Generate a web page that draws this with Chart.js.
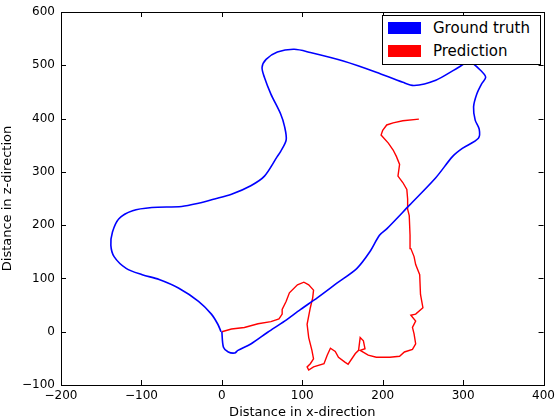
<!DOCTYPE html>
<html>
<head>
<meta charset="utf-8">
<script src="https://cdn.jsdelivr.net/npm/chart.js@4"></script>
<style>
html,body{margin:0;padding:0;background:#fff;}
#wrap{position:relative;width:560px;height:420px;overflow:hidden;}
#c{position:absolute;left:0;top:0;}
#legend{position:absolute;left:382px;top:15px;width:157px;height:48px;border:1px solid #000;background:#fff;font-family:'DejaVu Sans';font-size:15px;color:#000;}
.sw{position:absolute;left:5px;width:33px;height:12px;}
.lb{position:absolute;left:50px;line-height:18px;white-space:nowrap;}
</style>
</head>
<body>
<div id="wrap">
<canvas id="c" width="560" height="420"></canvas>
<div id="legend"></div>
</div>
<script>
// ---- data ----
const xTicks = [-200, -100, 0, 100, 200, 300, 400];
const zTicks = [-100, 0, 100, 200, 300, 400, 500, 600];
const seriesNames = ['Ground truth', 'Prediction'];
const seriesColors = ['#0000ff', '#ff0000'];
const xTitle = 'Distance in x-direction';
const zTitle = 'Distance in z-direction';

const gtX = [0,2,8,16,20,36,57,78,98,119,143,168,184,196,205,233,266,287,299,319,320,315,313,317,323,328,324,308,291,266,239,225,192,151,110,90,69,55,50,53,61,73,78,80,73,69,53,36,12,-9,-29,-50,-87,-111,-128,-136,-138,-134,-119,-99,-78,-54,-29,-13,-5,-1];
const gtZ = [0,-29,-38,-40,-35,-23,-1,20,42,64,91,119,150,181,193,237,289,329,344,363,380,397,422,446,465,477,487,506,493,472,462,468,487,508,524,530,525,511,496,477,446,409,385,360,338,329,292,274,258,249,241,235,233,227,212,187,162,141,119,107,98,82,57,33,14,0];

const predX = [0,12,28,45,61,71,75,75,80,84,94,102,108,114,113,110,106,108,112,114,110,106,108,114,127,131,135,141,145,153,157,166,170,172,176,178,172,182,192,209,221,227,237,241,239,237,241,235,241,250,247,246,241,239,235,234,233,231,231,230,225,219,221,217,213,207,198,200,205,213,225,245];
const predZ = [0,5,8,15,19,24,33,42,57,73,88,93,88,78,64,45,14,-11,-35,-51,-60,-66,-72,-66,-60,-44,-31,-37,-48,-57,-61,-41,-35,-11,-17,-32,-35,-44,-48,-48,-46,-38,-33,-23,-4,8,20,31,33,45,70,107,126,141,156,181,218,230,249,267,280,292,314,329,341,354,369,378,388,392,396,399];

function pts(xs, zs) { return xs.map((x, i) => ({ x: x, y: zs[i] })); }
const minus = v => String(v).replace('-', '\u2212');

// ---- legend (HTML overlay, drawn above the plot like matplotlib) ----
const lg = document.getElementById('legend');
seriesNames.forEach((n, i) => {
  const sw = document.createElement('div');
  sw.className = 'sw';
  sw.style.top = (6 + i * 23.4) + 'px';
  sw.style.background = seriesColors[i];
  lg.appendChild(sw);
  const lb = document.createElement('div');
  lb.className = 'lb';
  lb.style.top = (2.5 + i * 23) + 'px';
  lb.textContent = n;
  lg.appendChild(lb);
});

// ---- inward ticks + frame ----
const mplAxes = {
  id: 'mplAxes',
  afterDraw(chart) {
    const { ctx, chartArea: a, scales } = chart;
    const x = scales.x, y = scales.y;
    const L = 5;
    ctx.save();
    ctx.strokeStyle = '#000';
    ctx.lineWidth = 1;
    ctx.beginPath();
    xTicks.forEach(v => {
      const p = Math.round(x.getPixelForValue(v)) + 0.5;
      ctx.moveTo(p, a.bottom); ctx.lineTo(p, a.bottom - L);
      ctx.moveTo(p, a.top); ctx.lineTo(p, a.top + L);
    });
    zTicks.forEach(v => {
      const p = Math.round(y.getPixelForValue(v)) + 0.5;
      ctx.moveTo(a.left, p); ctx.lineTo(a.left + L, p);
      ctx.moveTo(a.right, p); ctx.lineTo(a.right - L, p);
    });
    ctx.stroke();
    ctx.strokeRect(Math.round(a.left) + 0.5, Math.round(a.top) + 0.5,
                   Math.round(a.right - a.left), Math.round(a.bottom - a.top));
    ctx.restore();
  }
};

Chart.defaults.font.family = "'DejaVu Sans', sans-serif";
Chart.defaults.color = '#000';

new Chart(document.getElementById('c'), {
  type: 'scatter',
  data: {
    datasets: [
      { label: seriesNames[0], data: pts(gtX, gtZ), showLine: true, borderColor: seriesColors[0],
        backgroundColor: seriesColors[0], borderWidth: 1.6, pointRadius: 0, tension: 0.3 },
      { label: seriesNames[1], data: pts(predX, predZ), showLine: true, borderColor: seriesColors[1],
        backgroundColor: seriesColors[1], borderWidth: 1.4, pointRadius: 0, tension: 0 }
    ]
  },
  options: {
    responsive: false,
    animation: false,
    devicePixelRatio: 1,
    layout: { padding: { top: 7, right: 11, left: 0, bottom: 0 } },
    plugins: { legend: { display: false }, tooltip: { enabled: false } },
    scales: {
      x: {
        type: 'linear', min: -200, max: 400,
        afterBuildTicks: s => { s.ticks = xTicks.map(v => ({ value: v })); },
        afterFit: s => { s.height = 35; },
        grid: { display: false, drawTicks: false },
        border: { display: false },
        ticks: { color: '#000', font: { size: 12, lineHeight: 1 }, padding: 5, maxRotation: 0, autoSkip: false, callback: minus },
        title: { display: true, text: xTitle, color: '#000', font: { size: 13 }, padding: 0 }
      },
      y: {
        type: 'linear', min: -100, max: 600,
        afterBuildTicks: s => { s.ticks = zTicks.map(v => ({ value: v })); },
        afterFit: s => { s.width = 61; },
        grid: { display: false, drawTicks: false },
        border: { display: false },
        ticks: { color: '#000', font: { size: 12, lineHeight: 1 }, padding: 6, autoSkip: false, callback: minus },
        title: { display: true, text: zTitle, color: '#000', font: { size: 13 }, padding: 0 }
      }
    }
  },
  plugins: [mplAxes]
});
</script>
</body>
</html>
